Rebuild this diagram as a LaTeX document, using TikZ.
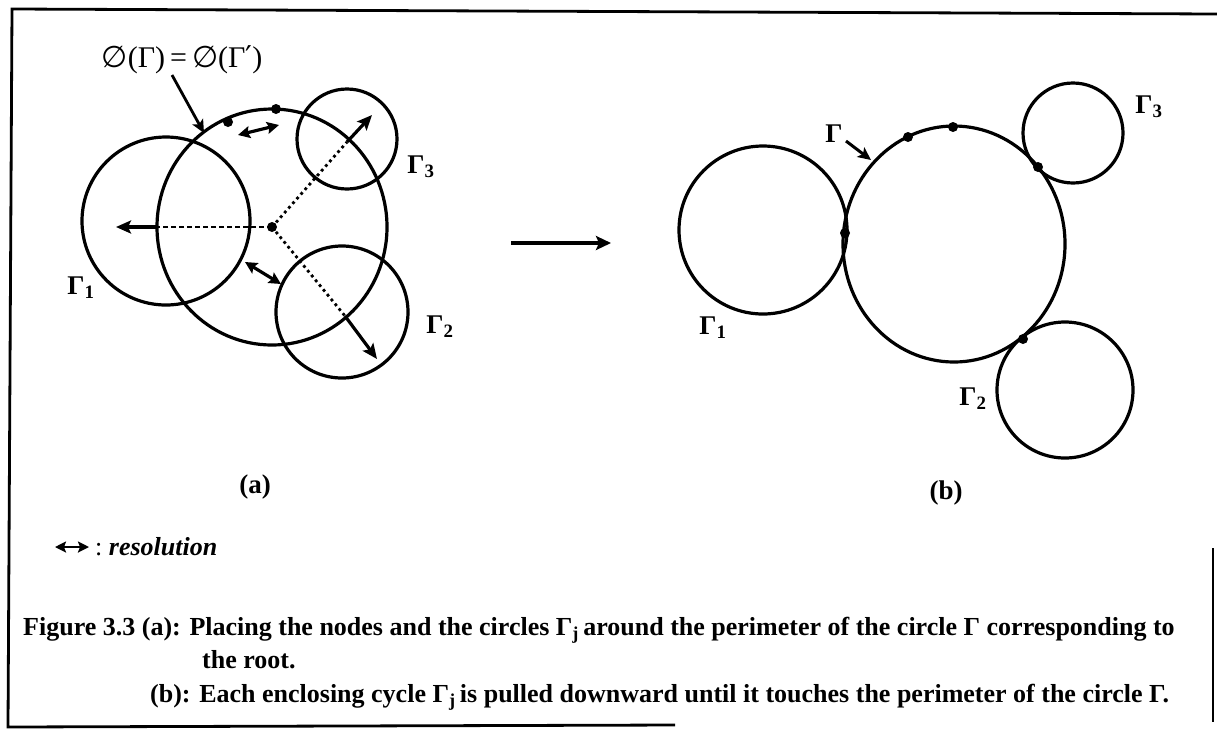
\documentclass[tikz,border=0pt]{standalone}
\usepackage{fontspec}
\setmainfont{Liberation Serif}
\newfontfamily\symfont{DejaVu Sans}
\usetikzlibrary{arrows.meta}
\begin{document}
\begin{tikzpicture}[x=1pt,y=-1pt,
  circ/.style={line width=3.2pt},
  dotnode/.style={circle,fill,inner sep=0pt,minimum size=10pt},
  arr/.style={line width=3.2pt,-{Stealth[length=15pt,width=13pt,inset=3pt]}},
  darr/.style={line width=3.2pt,{Stealth[length=12pt,width=12pt,inset=2pt]}-{Stealth[length=12pt,width=12pt,inset=2pt]}},
  dotl/.style={line width=2.8pt,dash pattern=on 2.8pt off 3.4pt},
  dashl/.style={line width=2.4pt,dash pattern=on 5pt off 3pt},
  lab/.style={font=\fontsize{27}{30}\selectfont\bfseries,inner sep=0pt},
  captext/.style={font=\fontsize{26}{30}\selectfont\bfseries,inner sep=0pt,anchor=base west},
  framel/.style={line width=2.8pt}
]
\useasboundingbox (0,0) rectangle (1217,732);
% frame
\coordinate (f1) at (12,9);
\coordinate (f2) at (1217,14);
\coordinate (f3) at (8,727);
\coordinate (f4) at (675,725);
\coordinate (f5) at (1213,548);
\coordinate (f6) at (1213,722);
\draw[framel] (f2) -- (f1) -- (f3) -- (f4);
\draw[line width=2pt] (f5) -- (f6);

% ---------- (a) ----------
\draw[circ] (272,227) ellipse [x radius=115, y radius=118];
\draw[circ] (166,221) circle [radius=84];
\draw[circ] (347,139) circle [radius=50];
\draw[circ] (342,312) circle [radius=66];
\node[dotnode] (root) at (272,227) {};
\coordinate (c1) at (157,227);
\coordinate (t1) at (116,227);
\coordinate (c3) at (347,142);
\coordinate (t3) at (372,115);
\coordinate (c2) at (345,316);
\coordinate (t2) at (377,359);
\draw[dashl] (root.center) -- (c1);
\draw[arr] (c1) -- (t1);
\draw[dotl] (root.center) -- (c3);
\draw[arr] (c3) -- (t3);
\draw[dotl] (root.center) -- (c2);
\draw[arr] (c2) -- (t2);
\node[dotnode] (n1) at (228,122) {};
\node[dotnode] (n2) at (276,109) {};
\coordinate (r1a) at (238,135);
\coordinate (r1b) at (279,125);
\coordinate (r2a) at (245,262);
\coordinate (r2b) at (281,284);
\draw[darr] (r1a) -- (r1b);
\draw[darr] (r2a) -- (r2b);
\node[inner sep=0pt,font=\fontsize{30}{34}\selectfont] (phi) at (182,60)
  {{\symfont ∅}(Γ)\,=\,{\symfont ∅}(Γ{\symfont ′})};
\coordinate (phis) at (172,75);
\coordinate (phit) at (204,133);
\draw[line width=2.8pt,-{Stealth[length=13pt,width=12pt,inset=3pt]}] (phis) -- (phit);
\node[lab] (g1a) at (81,288) {Γ\textsubscript{1}};
\node[lab] (g3a) at (421,167) {Γ\textsubscript{3}};
\node[lab] (g2a) at (440,327) {Γ\textsubscript{2}};
\node[lab] (la) at (255,487) {(a)};

% ---------- transition arrow ----------
\coordinate (ta) at (511,243);
\coordinate (tb) at (611,243);
\draw[line width=3.4pt,-{Stealth[length=15pt,width=14pt,inset=3pt]}] (ta) -- (tb);

% ---------- (b) ----------
\draw[circ] (763,230) circle [radius=84];
\draw[circ] (954,244) ellipse [x radius=111, y radius=118];
\draw[circ] (1073,133) circle [radius=50];
\draw[circ] (1065,390) circle [radius=68];
\node[dotnode] (m1) at (845,233) {};
\node[dotnode] (m2) at (908,137) {};
\node[dotnode] (m3) at (953,127) {};
\node[dotnode] (m4) at (1038,167) {};
\node[dotnode] (m5) at (1023,339) {};
\node[lab] (gb) at (834,134) {Γ};
\coordinate (gbs) at (846,141);
\coordinate (gbt) at (871,160);
\draw[line width=3pt,-{Stealth[length=13pt,width=12pt,inset=3pt]}] (gbs) -- (gbt);
\node[lab] (g1b) at (713,328) {Γ\textsubscript{1}};
\node[lab] (g3b) at (1149,107) {Γ\textsubscript{3}};
\node[lab] (g2b) at (973,399) {Γ\textsubscript{2}};
\node[lab] (lb) at (946,493) {(b)};

% ---------- legend ----------
\coordinate (la1) at (55,547);
\coordinate (la2) at (89,547);
\draw[line width=2.6pt,{Stealth[length=11pt,width=11pt,inset=2pt]}-{Stealth[length=11pt,width=11pt,inset=2pt]}] (la1) -- (la2);
\node[captext] (leg) at (95,555) {\mdseries:\ \bfseries\itshape resolution};

% ---------- caption ----------
\node[captext] (cap1) at (23,635) {Figure 3.3 (a): Placing the nodes and the circles Γ\textsubscript{j}\,around the perimeter of the circle Γ corresponding to};
\node[captext] (cap2) at (202,668) {the root.};
\node[captext] (cap3) at (150,702) {(b): Each enclosing cycle Γ\textsubscript{j}\,is pulled downward until it touches the perimeter of the circle Γ.};
\end{tikzpicture}
\end{document}
